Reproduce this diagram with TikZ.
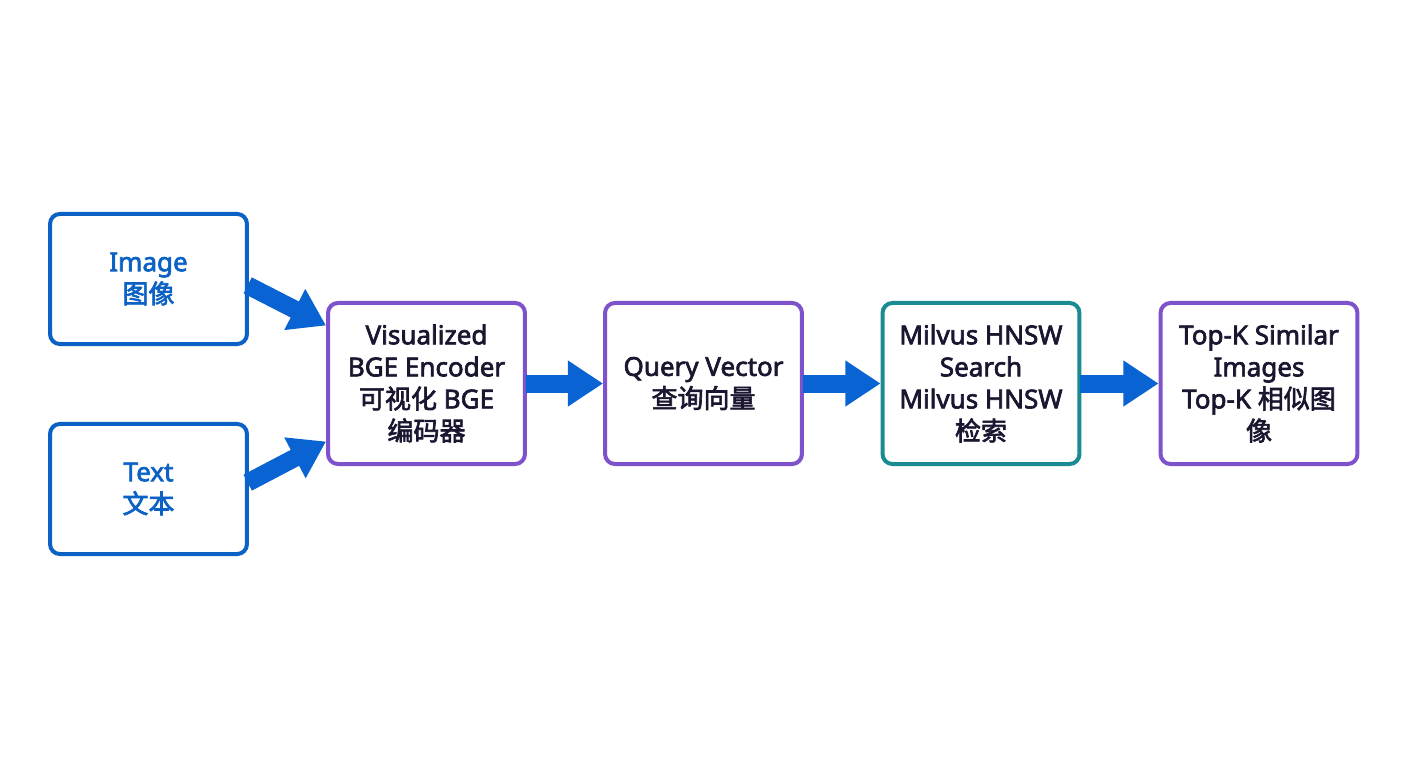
\documentclass[tikz,border=0pt]{standalone}
\usepackage{fontspec}
\setmainfont{Noto Sans}[AutoFakeBold=2.5]
\newfontfamily\cjk{Noto Sans CJK SC}[AutoFakeBold=2.5]
\usetikzlibrary{arrows.meta}
\definecolor{inblue}{HTML}{0B62C4}
\definecolor{arrowblue}{HTML}{0A63D2}
\definecolor{stagepurple}{HTML}{7E52CB}
\definecolor{searchteal}{HTML}{1A8A93}
\definecolor{labeldark}{HTML}{1B1530}
\tikzset{
  box/.style={draw, line width=2.85pt, rounded corners=7pt, fill=white,
    minimum width=140pt, minimum height=0pt, inner sep=0pt, align=center,
    font=\fontsize{18.5}{22.8}\selectfont\bfseries, text=labeldark},
  inbox/.style={box, draw=inblue, text=inblue, minimum height=92.5pt},
  stagebox/.style={box, draw=stagepurple, minimum height=114.5pt},
  searchbox/.style={box, draw=searchteal, minimum height=114.5pt},
  flow/.style={line width=12.8pt, arrowblue,
    -{Triangle[length=25pt,width=31pt]}, shorten <=-1pt}
}
\begin{document}
\begin{tikzpicture}[x=0.025cm,y=-0.025cm]
\fill[white] (0,0) rectangle (1408,768);
\useasboundingbox (0,0) rectangle (1408,768);
% inputs
\node[inbox] (img) at (148.5,279) {Image\\{\cjk 图像}};
\node[inbox] (txt) at (148.5,489) {Text\\{\cjk 文本}};
% pipeline
\node[stagebox] (enc) at (426.5,383.5) {Visualized\\BGE Encoder\\{\cjk 可视化} BGE\\{\cjk 编码器}};
\node[stagebox] (qv) at (703.5,383.5) {Query Vector\\{\cjk 查询向量}};
\node[searchbox] (hnsw) at (981,383.5) {Milvus HNSW\\Search\\Milvus HNSW\\{\cjk 检索}};
\node[stagebox] (topk) at (1259,383.5) {Top-K Similar\\Images\\Top-K {\cjk 相似图}\\{\cjk 像}};
\draw[flow] (img.-4) -- (enc.150);
\draw[flow] (txt.4) -- (enc.210);
\draw[flow] (enc) -- (qv);
\draw[flow] (qv) -- (hnsw);
\draw[flow] (hnsw) -- (topk);
\end{tikzpicture}
\end{document}
